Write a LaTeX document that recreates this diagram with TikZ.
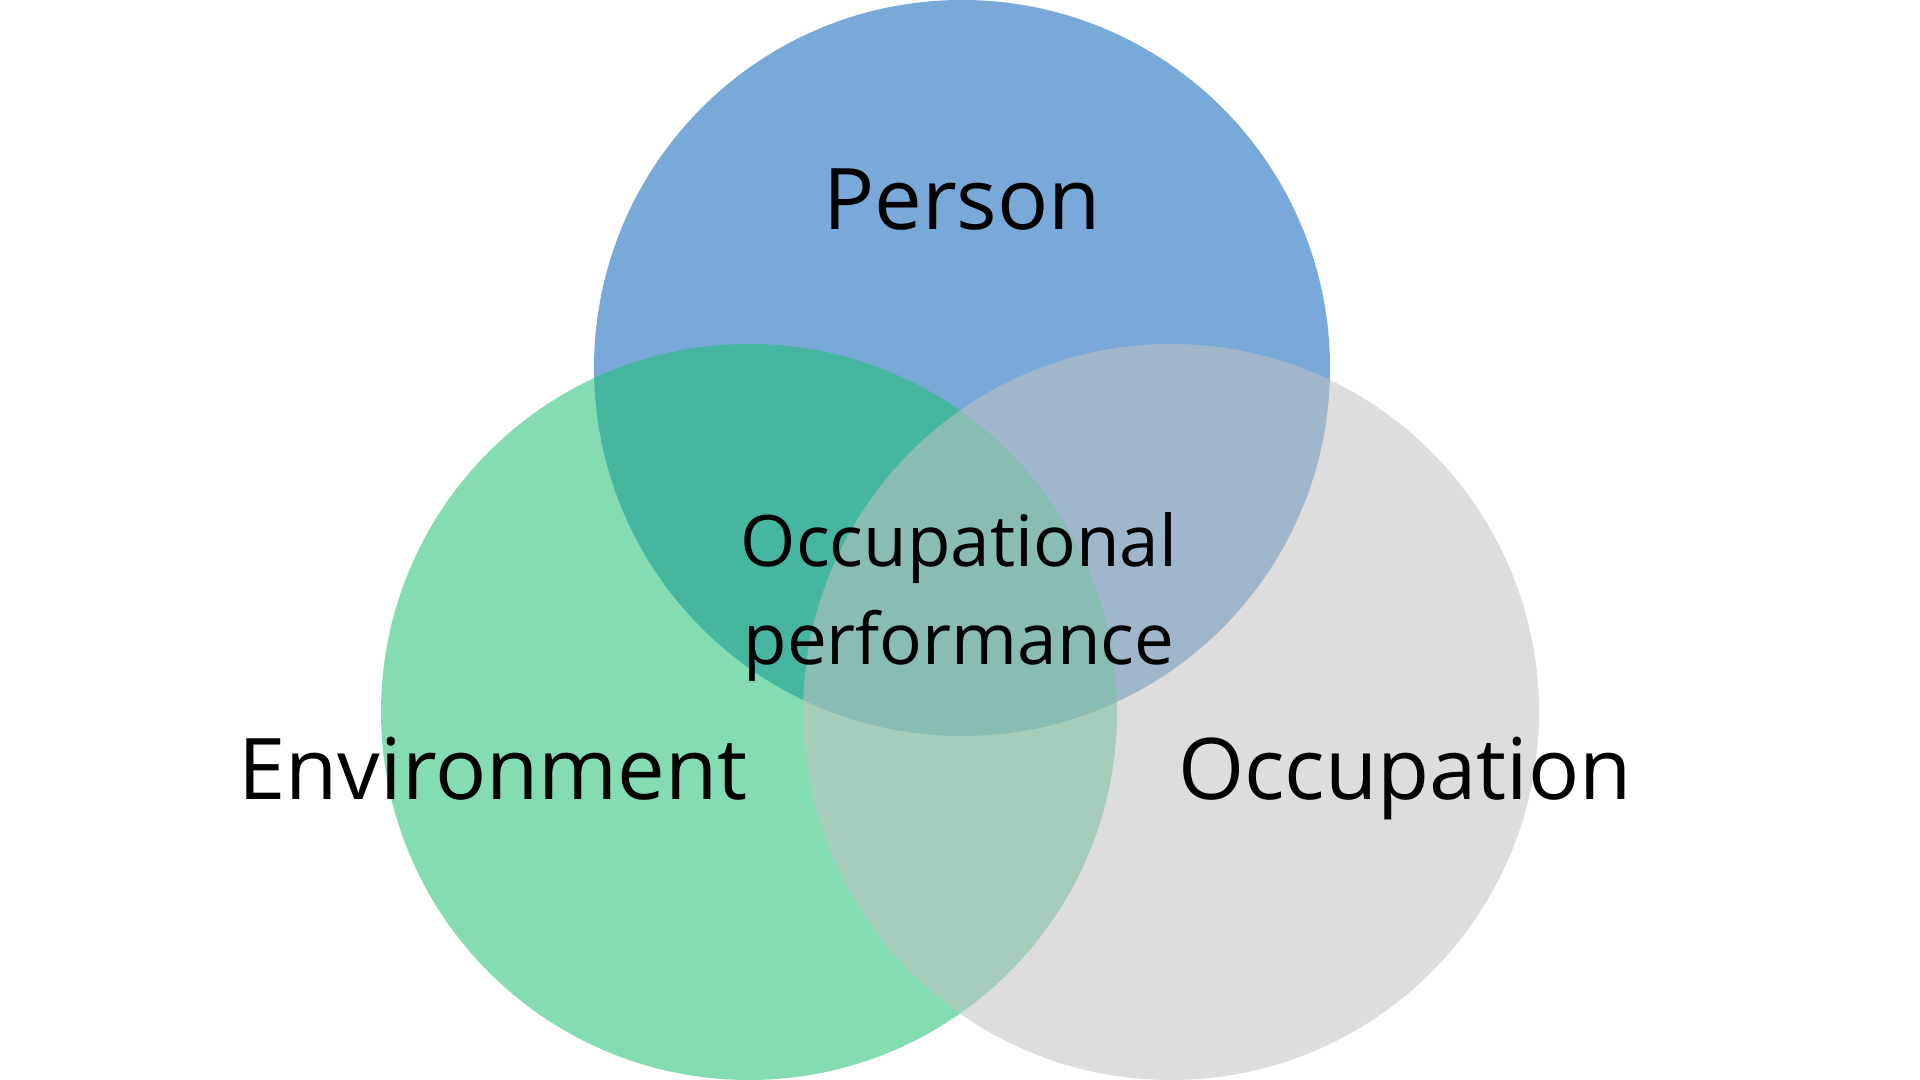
\documentclass[tikz,border=0pt]{standalone}
\usepackage{fontspec}
\setsansfont{Open Sans}
\usepackage{tikz}
\usetikzlibrary{positioning}
\usepackage{xcolor}
\definecolor{personBlue}{RGB}{10,99,184}
\definecolor{envGreen}{RGB}{30,192,115}
\definecolor{occGrey}{RGB}{193,193,193}

\begin{document}
\begin{tikzpicture}[
  font=\sffamily,
  venn/.style={circle, minimum size=7.36cm, inner sep=0pt, fill opacity=0.55}
]

  \useasboundingbox (0, 0) rectangle (19.2, 10.8);

  % Circles (drawn in this order: person, environment, occupation)
  \node[venn, fill=personBlue] (person) at (9.62, 7.12) {};
  \node[venn, fill=envGreen] (environment) at (7.49, 3.68) {};
  \node[venn, fill=occGrey] (occupation) at (11.71, 3.68) {};

  % Labels
  \node[anchor=base, font=\fontsize{24.2}{28}\sffamily] (personlbl) at (9.62, 8.50) {Person};
  \node[anchor=base, font=\fontsize{24.2}{28}\sffamily] (envlbl) at (4.93, 2.80) {Environment};
  \node[anchor=base, font=\fontsize{24.2}{28}\sffamily] (occlbl) at (14.05, 2.80) {Occupation};

  % Centre
  \node[anchor=base, font=\fontsize{20.2}{27.9}\sffamily] (perflbl) at (9.59, 5.13) {Occupational};
  \node[anchor=base, font=\fontsize{20.2}{27.9}\sffamily] (perflbl2) at (9.59, 4.15) {performance};

\end{tikzpicture}
\end{document}
